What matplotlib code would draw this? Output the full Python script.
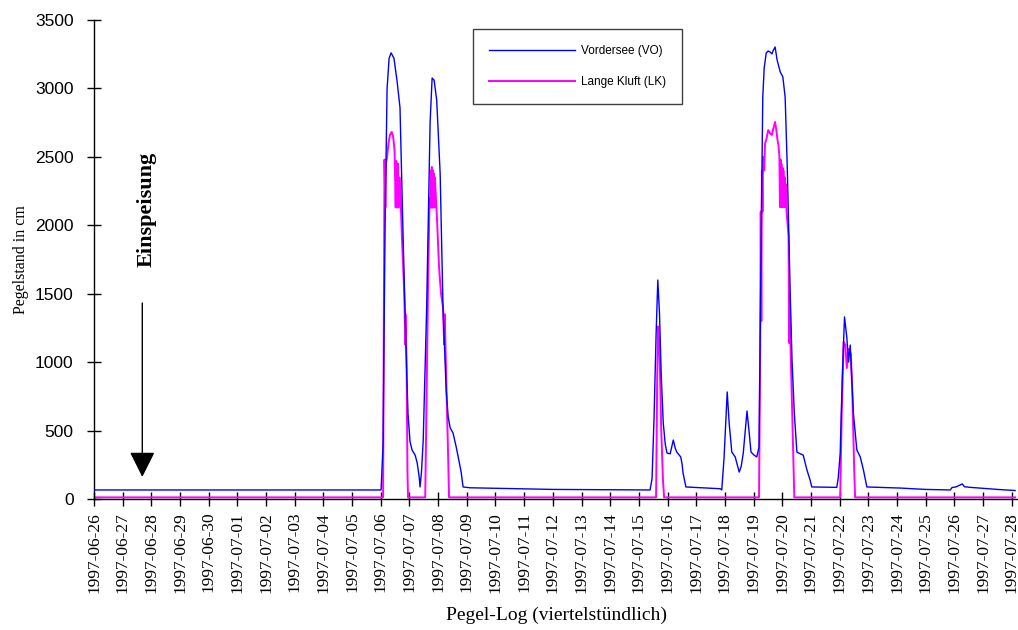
import matplotlib
matplotlib.use("Agg")
import matplotlib.pyplot as plt
import matplotlib.dates as mdates
import pandas as pd

# ---- data (time in days after 1997-06-26 00:00, level in cm) ----
start = pd.Timestamp("1997-06-26")

vo_days = [0.00, 10.01, 10.08, 10.15, 10.22, 10.29, 10.36, 10.46, 10.57, 10.67, 10.78,
           10.90, 10.95, 11.02, 11.09, 11.20, 11.27, 11.34, 11.37, 11.42, 11.48, 11.60,
           11.72, 11.79, 11.86, 11.95, 12.07, 12.17, 12.28, 12.35, 12.42, 12.52, 12.63,
           12.70, 12.80, 12.87, 13.11, 16.00, 19.39, 19.46, 19.53, 19.60, 19.66, 19.72,
           19.78, 19.85, 19.92, 19.98, 20.09, 20.20, 20.27, 20.32, 20.46, 20.51, 20.54,
           20.64, 21.84, 21.89, 21.97, 22.08, 22.15, 22.24, 22.36, 22.43, 22.50, 22.57,
           22.64, 22.71, 22.77, 22.83, 22.91, 23.02, 23.11, 23.19, 23.23, 23.28, 23.32,
           23.37, 23.44, 23.51, 23.58, 23.64, 23.68, 23.75, 23.82, 23.93, 24.02, 24.10,
           24.17, 24.28, 24.34, 24.42, 24.51, 24.63, 24.73, 24.86, 24.97, 25.03, 25.90,
           25.95, 26.02, 26.09, 26.17, 26.25, 26.31, 26.37, 26.48, 26.60, 26.72, 26.83,
           26.95, 28.11, 29.00, 29.86, 29.92, 30.05, 30.28, 30.35, 30.50, 31.50, 32.12]
vo_level = [66, 66, 400, 2000, 3000, 3220, 3260, 3220, 3050, 2860, 1900,
            950, 620, 420, 358, 320, 263, 160, 88, 200, 430, 1400,
            2750, 3076, 3060, 2915, 2380, 1400, 800, 600, 520, 482, 380,
            307, 200, 88, 82, 70, 66, 150, 600, 1200, 1600, 1350,
            900, 555, 400, 336, 330, 431, 370, 343, 307, 250, 190,
            88, 75, 66, 300, 782, 550, 343, 307, 250, 197, 240,
            336, 500, 643, 520, 343, 320, 307, 380, 1200, 2200, 2937,
            3150, 3259, 3273, 3265, 3252, 3275, 3303, 3208, 3120, 3084, 2937,
            2455, 1476, 1016, 628, 343, 330, 321, 212, 139, 88, 85,
            150, 336, 870, 1330, 1184, 1001, 1125, 628, 358, 307, 212,
            88, 80, 70, 66, 84, 88, 110, 90, 86, 70, 62]

lk_days = [0.00, 10.08, 10.13, 10.16, 10.18, 10.22, 10.27, 10.32, 10.38, 10.43, 10.48,
           10.52, 10.54, 10.57, 10.60, 10.62, 10.65, 10.69, 10.74, 10.80, 10.83, 10.85,
           10.86, 10.90, 10.93, 10.95, 11.55, 11.60, 11.65, 11.70, 11.73, 11.75, 11.76,
           11.78, 11.80, 11.82, 11.83, 11.85, 11.87, 11.89, 11.91, 11.96, 12.03, 12.10,
           12.17, 12.21, 12.23, 12.28, 12.35, 12.38, 19.60, 19.64, 19.67, 19.71, 19.74,
           19.78, 19.84, 19.88, 23.19, 23.23, 23.25, 23.27, 23.29, 23.31, 23.33, 23.37,
           23.40, 23.44, 23.51, 23.58, 23.64, 23.68, 23.75, 23.79, 23.83, 23.87, 23.90,
           23.92, 23.94, 23.96, 23.97, 23.99, 24.01, 24.02, 24.04, 24.06, 24.08, 24.10,
           24.12, 24.15, 24.22, 24.24, 24.26, 24.29, 24.35, 24.42, 26.02, 26.07, 26.14,
           26.20, 26.25, 26.31, 26.39, 26.44, 26.51, 26.54, 32.12]
lk_level = [12, 12, 2480, 2130, 2450, 2500, 2600, 2660, 2682, 2650, 2550,
            2130, 2470, 2130, 2450, 2130, 2350, 2200, 1900, 1600, 1400, 1130,
            1350, 1000, 200, 12, 12, 800, 1600, 2200, 2130, 2400, 2130,
            2426, 2130, 2400, 2130, 2380, 2130, 2350, 2250, 2050, 1700, 1500,
            1400, 1130, 1350, 900, 300, 12, 12, 900, 1260, 1150, 900,
            500, 140, 12, 12, 1100, 2100, 1300, 2400, 2100, 2500, 2400,
            2600, 2623, 2696, 2670, 2660, 2700, 2755, 2700, 2630, 2580, 2500,
            2134, 2480, 2134, 2450, 2134, 2420, 2134, 2400, 2134, 2350, 2134,
            2300, 2100, 1914, 1140, 1500, 1100, 600, 12, 12, 600, 1147,
            1125, 957, 1096, 1060, 800, 200, 12, 12]

series_names = ["Vordersee (VO)", "Lange Kluft (LK)"]
y_ticks = [0, 500, 1000, 1500, 2000, 2500, 3000, 3500]
arrow_day, arrow_top, arrow_tip = 1.684, 1432, 161
label_day, label_level = 1.835, 2115

def to_time(days):
    return [start + pd.Timedelta(days=d) for d in days]

plt.rcParams["font.family"] = ["Liberation Serif", "DejaVu Serif"]

fig = plt.figure(figsize=(10.18, 6.3), dpi=100)
ax = fig.add_axes([94 / 1018, 1 - 499 / 630, 1 - 94 / 1018, (499 - 20) / 630])

l1, = ax.plot(to_time(vo_days), vo_level, color="#0000FF", lw=1.0, label=series_names[0], zorder=3)
l2, = ax.plot(to_time(lk_days), lk_level, color="#FF00FF", lw=1.4, label=series_names[1], zorder=2)

ax.set_xlim(start, start + pd.Timedelta(days=32.22))
ax.set_ylim(0, 3500)
ax.set_yticks(y_ticks)
ax.xaxis.set_major_locator(mdates.DayLocator())
ax.xaxis.set_major_formatter(mdates.DateFormatter("%Y-%m-%d"))

for s in ["top", "right"]:
    ax.spines[s].set_visible(False)
for s in ["left", "bottom"]:
    ax.spines[s].set_linewidth(1.0)

ax.tick_params(axis="x", direction="inout", length=9.4, width=1.0, pad=4.5,
               labelrotation=90, labelsize=12.5)
ax.tick_params(axis="y", direction="inout", length=9.4, width=1.0, pad=10)
for lab in ax.get_yticklabels():
    lab.set_fontfamily(["Liberation Sans", "DejaVu Sans"])
    lab.set_fontsize(12.5)

ax.set_ylabel("Pegelstand in cm", fontsize=11.5, labelpad=4.5)
ax.set_xlabel("Pegel-Log (viertelstündlich)", fontsize=14, labelpad=10)

ax.annotate("", xy=(start + pd.Timedelta(days=arrow_day), arrow_tip),
            xytext=(start + pd.Timedelta(days=arrow_day), arrow_top),
            arrowprops=dict(arrowstyle="-|>,head_length=1.58,head_width=0.79",
                            mutation_scale=10, color="black", lw=1.0,
                            shrinkA=0, shrinkB=0))
ax.text(start + pd.Timedelta(days=label_day), label_level, "Einspeisung",
        rotation=90, ha="center", va="center", fontsize=16, fontweight="bold")

leg = fig.legend(handles=[l1, l2], loc="upper left",
                 bbox_to_anchor=(473 / 1018, 1 - 29 / 630), borderaxespad=0,
                 prop={"family": ["Liberation Sans", "DejaVu Sans"], "size": 8.5},
                 handlelength=7.3, handletextpad=0.5, labelspacing=1.6,
                 borderpad=1.35, fancybox=False, framealpha=1)
leg.get_frame().set_edgecolor("#404040")
leg.get_frame().set_linewidth(1.0)

fig.savefig("out.png", dpi=100)
